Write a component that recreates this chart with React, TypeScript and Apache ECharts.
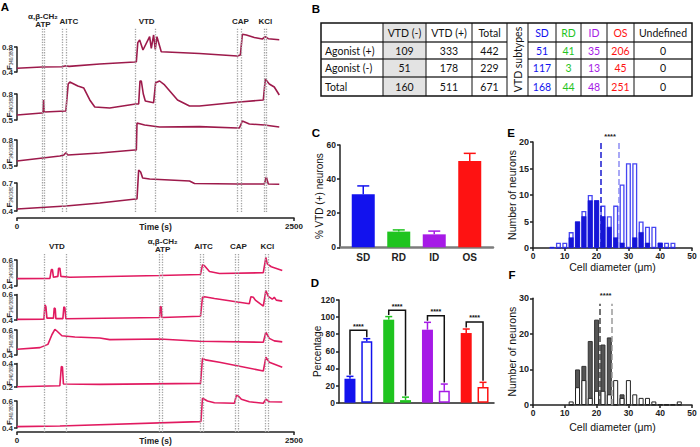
import React, { useEffect, useRef } from 'react';
import * as echarts from 'echarts';

// ---------------- Panel A data ----------------
const timeTicks = [0, 2500];

// top experiment: [time (s), F340/380]
const topTrace1: number[][] = [[0,0.459],[225,0.48],[405,0.485],[441,0.5],[470,0.49],[747,0.528],[1062,0.56],[1077,0.565],[1090,0.87],[1107,0.912],[1137,0.752],[1197,0.965],[1212,0.779],[1233,0.992],[1248,0.763],[1263,0.965],[1302,0.725],[1647,0.696],[1989,0.656],[2016,0.672],[2034,1.003],[2070,0.992],[2142,0.952],[2214,0.928],[2241,0.965],[2268,0.933],[2367,0.917]];
const topTrace2: number[][] = [[0,0.558],[225,0.581],[234,0.581],[240,0.731],[246,0.592],[441,0.604],[462,0.915],[477,0.938],[549,0.892],[603,0.869],[657,0.731],[702,0.65],[837,0.638],[1071,0.685],[1098,0.685],[1110,0.95],[1122,0.95],[1140,0.8],[1158,0.72],[1233,0.7],[1251,0.93],[1287,0.95],[1332,0.904],[1449,0.731],[1557,0.662],[1647,0.662],[2007,0.708],[2223,0.731],[2241,0.973],[2277,0.915],[2322,0.881],[2367,0.788]];
const topTrace3: number[][] = [[0,0.558],[387,0.615],[423,0.627],[441,0.653],[459,0.627],[747,0.65],[1062,0.685],[1077,0.685],[1083,0.996],[1152,0.973],[1287,0.95],[1647,0.954],[1989,0.938],[2007,0.938],[2034,1.019],[2097,0.985],[2232,0.973],[2367,0.95]];
const topTrace4: number[][] = [[0,0.421],[441,0.454],[747,0.486],[1071,0.529],[1083,0.529],[1098,0.839],[1116,0.818],[1134,0.754],[1197,0.743],[1377,0.732],[1557,0.721],[1602,0.695],[1989,0.689],[2232,0.689],[2250,0.764],[2268,0.689],[2367,0.686]];
const topYMin = [0.4, 0.5, 0.5, 0.4];
const topYMax = [0.8, 0.8, 0.8, 0.7];

const topStimNames = ['α,β-CH₂\nATP', 'AITC', 'VTD', 'CAP', 'KCl'];
const topStimOn = [228, 408, 1071, 1992, 2232];
const topStimOff = [246, 447, 1248, 2028, 2253];
const topStimLabelT = [234, 468, 1170, 2016, 2241];

// bottom experiment
const botTrace1: number[][] = [[0,0.457],[297,0.459],[310,0.526],[320,0.526],[329,0.467],[369,0.474],[375,0.537],[387,0.537],[396,0.474],[477,0.467],[1287,0.481],[1656,0.489],[1674,0.563],[1692,0.556],[1737,0.511],[1827,0.496],[2223,0.502],[2246,0.62],[2259,0.57],[2295,0.548],[2394,0.519]];
const botTrace2: number[][] = [[0,0.405],[243,0.407],[252,0.519],[261,0.504],[270,0.415],[329,0.415],[336,0.494],[345,0.489],[351,0.411],[414,0.411],[423,0.504],[432,0.496],[441,0.41],[1287,0.42],[1293,0.506],[1301,0.504],[1308,0.42],[1656,0.43],[1674,0.578],[1692,0.583],[1782,0.568],[2097,0.528],[2111,0.583],[2133,0.578],[2151,0.556],[2223,0.509],[2246,0.63],[2268,0.585],[2304,0.563],[2322,0.578],[2340,0.556],[2394,0.548]];
const botTrace3: number[][] = [[0,0.446],[207,0.459],[279,0.485],[315,0.562],[342,0.605],[360,0.592],[405,0.554],[522,0.544],[747,0.536],[837,0.523],[1287,0.528],[1647,0.51],[2223,0.502],[2246,0.582],[2277,0.533],[2322,0.513],[2394,0.505]];
const botTrace4: number[][] = [[0,0.2025],[387,0.211],[400,0.375],[410,0.371],[419,0.225],[747,0.2225],[1656,0.231],[1674,0.444],[1701,0.431],[1827,0.411],[2223,0.336],[2246,0.4525],[2277,0.411],[2394,0.369]];
const botTrace5: number[][] = [[0,0.41],[387,0.415],[1647,0.447],[1660,0.448],[1674,0.62],[1719,0.6],[1782,0.587],[1962,0.583],[1980,0.642],[1998,0.637],[2025,0.613],[2097,0.595],[2223,0.583],[2246,0.613],[2277,0.595],[2394,0.593]];
const botYMin = [0.4, 0.4, 0.4, 0.2, 0.4];
const botYMax = [0.6, 0.6, 0.6, 0.4, 0.6];

const botStimNames = ['VTD', 'α,β-CH₂\nATP', 'AITC', 'CAP', 'KCl'];
const botStimOn = [243, 1287, 1656, 1971, 2241];
const botStimOff = [441, 1314, 1683, 1998, 2268];
const botStimLabelT = [360, 1314, 1683, 1998, 2259];

// ---------------- Panel B data ----------------
const tableHeader = ['', 'VTD (-)', 'VTD (+)', 'Total', 'VTD subtypes', 'SD', 'RD', 'ID', 'OS', 'Undefined'];
const tableRowLabels = ['Agonist (+)', 'Agonist (-)', 'Total'];
const colVtdNeg = [109, 51, 160];
const colVtdPos = [333, 178, 511];
const colTotal = [442, 229, 671];
const colSD = [51, 117, 168];
const colRD = [41, 3, 44];
const colID = [35, 13, 48];
const colOS = [206, 45, 251];
const colUndefined = [0, 0, 0];

// ---------------- Panel C / D data ----------------
const subtypes = ['SD', 'RD', 'ID', 'OS'];
const cMeans = [31.1, 9.2, 7.6, 50.6];
const cSem = [4.9, 1.0, 1.9, 4.5];
const dAgonistPos = [28, 97, 85.3, 81.4];
const dAgonistPosSem = [2.8, 3.6, 8.6, 4.7];
const dAgonistNeg = [71.7, 3, 14, 18.3];
const dAgonistNegSem = [3.1, 3.5, 7.8, 5.5];
const dBracketLevel = [84.6, 108, 101.7, 94.3];

// ---------------- Panel E / F data ----------------
const eBins = [6, 8, 10, 12, 14, 16, 18, 20, 22, 24, 26, 28, 30, 32, 34, 36, 38, 40, 42, 44];
const eOpen = [0, 1, 1, 3, 5, 7, 10, 9, 8, 6, 8, 12, 16, 16, 5, 4, 4, 1, 1, 1];
const eFilled = [0.2, 0, 0, 2, 5, 6, 9, 9, 6, 4, 2, 1, 0, 2, 3, 1, 0, 1, 0, 0];
const eMeanFilled = 21.4;
const eMeanOpen = 27.1;

const fBins = [12, 14, 16, 18, 20, 22, 24, 26, 28, 30, 32, 34, 36, 38, 40, 42, 44, 46];
const fDark = [0, 10, 11, 18, 24, 17, 19, 0, 3, 0, 0, 0, 0, 0, 0, 0, 0, 0];
const fWhite = [1, 5, 7, 2, 4, 4, 3, 7, 2, 7, 3, 2, 2, 1, 0.2, 0.2, 0.2, 1];
const fMeanDark = 20.9;
const fMeanWhite = 24.8;

// ---------------- styling ----------------
const FONT = 'Liberation Sans, Arial, sans-serif';
const TOP_COLOR = '#9d1a4b';
const BOT_COLOR = '#e11a60';
const SUB_COLORS = ['#1212ee', '#1fc41f', '#a61ae6', '#fe1212'];
const A_LEFT = 17;
const A_W = 277;

function buildOption(): any {
  const grid: any[] = [];
  const xAxis: any[] = [];
  const yAxis: any[] = [];
  const series: any[] = [];
  const addGrid = (g: any, xa: any, ya: any) => {
    const i = grid.length;
    grid.push({ ...g, containLabel: false, outerBoundsMode: 'none' });
    xAxis.push({ nameMoveOverlap: false, ...xa, gridIndex: i });
    yAxis.push({ nameMoveOverlap: false, ...ya, gridIndex: i });
    return i;
  };

  const hiddenTime = { type: 'value', min: 0, max: 2500, show: false };
  const timeAxis = (offset: number) => ({
    type: 'value', min: 0, max: 2500, interval: 2500, offset,
    axisLine: { show: true, onZero: false, lineStyle: { color: '#222', width: 1.5 } },
    axisTick: { show: true, length: 3, customValues: timeTicks, lineStyle: { color: '#222', width: 1.5 } },
    axisLabel: { show: true, customValues: timeTicks, formatter: (v: number) => String(v), fontSize: 8, fontWeight: 'bold', color: '#222', margin: 4, fontFamily: FONT },
    splitLine: { show: false },
    name: 'Time (s)', nameLocation: 'middle', nameGap: 4,
    nameTextStyle: { fontSize: 8.5, fontWeight: 'bold', color: '#222', fontFamily: FONT },
  });

  const addMarkers = (top: number, height: number, on: number[], off: number[], names: string[], labelT: number[]) => {
    const i = addGrid({ left: A_LEFT, top, width: A_W, height }, hiddenTime, { type: 'value', min: 0, max: 1, show: false });
    series.push({
      type: 'line', xAxisIndex: i, yAxisIndex: i, data: [[0, 0]], symbol: 'none', lineStyle: { opacity: 0 }, silent: true,
      markLine: {
        silent: true, symbol: ['none', 'none'], label: { show: false },
        lineStyle: { type: 'dotted', color: '#a3a3a3', width: 1.3 },
        data: on.concat(off).map((t) => ({ xAxis: t })),
      },
      markPoint: {
        silent: true, symbol: 'rect', symbolSize: 0,
        data: names.map((n, k) => ({
          coord: [labelT[k], 1], name: n,
          label: {
            show: true, position: 'top', distance: 2, offset: [0, n.indexOf('\n') >= 0 ? 3 : 0], formatter: n,
            fontSize: 8, fontWeight: 'bold', color: '#222', lineHeight: 8.5, fontFamily: FONT,
          },
        })),
      },
    });
  };

  const addTrace = (data: number[][], top: number, height: number, ymin: number, ymax: number, color: string, timeOffset: number | null) => {
    const i = addGrid(
      { left: A_LEFT, top, width: A_W, height },
      timeOffset === null ? hiddenTime : timeAxis(timeOffset),
      {
        type: 'value', min: ymin, max: ymax, interval: +(ymax - ymin).toFixed(2),
        axisLine: { show: true, onZero: false, lineStyle: { color: '#222', width: 1.5 } },
        axisTick: { show: true, length: 3, customValues: [ymin, ymax], lineStyle: { color: '#222', width: 1.5 } },
        axisLabel: { show: true, customValues: [ymin, ymax], formatter: (v: number) => v.toFixed(1), fontSize: 8, fontWeight: 'bold', color: '#333', margin: 4, fontFamily: FONT },
        splitLine: { show: false },
        name: '{a|F}{b|340/380}', nameLocation: 'middle', nameGap: 3, nameRotate: 90,
        nameTextStyle: {
          rich: {
            a: { fontSize: 8, fontWeight: 'bold', color: '#222', fontFamily: FONT, lineHeight: 10 },
            b: { fontSize: 4.5, color: '#222', fontFamily: FONT, verticalAlign: 'bottom', lineHeight: 6 },
          },
        },
      }
    );
    series.push({
      type: 'line', xAxisIndex: i, yAxisIndex: i, data, symbol: 'none', showSymbol: false, clip: false, silent: true,
      lineStyle: { color, width: 1.6 },
    });
  };

  // ---- Panel A ----
  addMarkers(28, 184, topStimOn, topStimOff, topStimNames, topStimLabelT);
  addMarkers(253, 179, botStimOn, botStimOff, botStimNames, botStimLabelT);
  const topTraces = [topTrace1, topTrace2, topTrace3, topTrace4];
  const topTops = [47, 94, 140, 183];
  const topHeights = [25, 26, 26, 28];
  topTraces.forEach((d, k) => addTrace(d, topTops[k], topHeights[k], topYMin[k], topYMax[k], TOP_COLOR, k === 3 ? 7 : null));
  const botTraces = [botTrace1, botTrace2, botTrace3, botTrace4, botTrace5];
  const botTops = [260, 294.5, 330, 363.5, 401];
  const botHeights = [26, 25.5, 25, 23.5, 27];
  botTraces.forEach((d, k) => addTrace(d, botTops[k], botHeights[k], botYMin[k], botYMax[k], BOT_COLOR, k === 4 ? 4 : null));

  const valAxis = (min: number, max: number, interval: number, name: string, nameGap: number) => ({
    type: 'value', min, max, interval,
    axisLine: { show: true, onZero: false, lineStyle: { color: '#222', width: 1.5 } },
    axisTick: { show: true, length: 3, lineStyle: { color: '#222', width: 1.5 } },
    axisLabel: { fontSize: 8.5, fontWeight: 'bold', color: '#222', margin: 4, fontFamily: FONT },
    splitLine: { show: false },
    name, nameLocation: 'middle', nameGap,
    nameTextStyle: { fontSize: 10, color: '#111', fontFamily: FONT },
  });

  // ---- Panel C ----
  const ci = addGrid(
    { left: 340, top: 145, width: 153, height: 102.3 },
    {
      type: 'value', min: -0.655, max: 3.655,
      axisLine: { show: true, onZero: false, lineStyle: { color: '#7c7c7c', width: 2.5 } },
      axisTick: { show: false },
      axisLabel: { customValues: [0, 1, 2, 3], formatter: (v: number) => subtypes[Math.round(v)] ?? '', fontSize: 10, fontWeight: 'bold', color: '#222', margin: 5, fontFamily: FONT },
      splitLine: { show: false },
    },
    valAxis(0, 60, 20, '% VTD (+) neurons', 16)
  );
  series.push({
    type: 'bar', xAxisIndex: ci, yAxisIndex: ci, barWidth: 23, silent: true,
    data: cMeans.map((m, i) => ({ value: [i, m], itemStyle: { color: SUB_COLORS[i] } })),
  });
  series.push({
    type: 'custom', xAxisIndex: ci, yAxisIndex: ci, silent: true, z: 3,
    data: cMeans.map((m, i) => [i, m, m + cSem[i]]),
    renderItem: (params: any, api: any) => {
      const p0 = api.coord([api.value(0), api.value(1)]);
      const p1 = api.coord([api.value(0), api.value(2)]);
      const c = SUB_COLORS[params.dataIndex];
      return {
        type: 'group', children: [
          { type: 'line', shape: { x1: p0[0], y1: p0[1], x2: p1[0], y2: p1[1] }, style: { stroke: c, lineWidth: 1.5 } },
          { type: 'line', shape: { x1: p1[0] - 6, y1: p1[1], x2: p1[0] + 6, y2: p1[1] }, style: { stroke: c, lineWidth: 1.5 } },
        ],
      };
    },
  });

  // ---- Panel D ----
  const di = addGrid(
    { left: 339, top: 300, width: 155, height: 102.7 },
    {
      type: 'category', data: subtypes,
      axisLine: { show: true, onZero: false, lineStyle: { color: '#222', width: 1.5 } },
      axisTick: { show: false }, axisLabel: { show: false }, splitLine: { show: false },
    },
    valAxis(0, 120, 20, 'Percentage', 17)
  );
  series.push({
    type: 'bar', xAxisIndex: di, yAxisIndex: di, barWidth: 11, barGap: '53%', silent: true,
    data: dAgonistPos.map((v, i) => ({ value: v, itemStyle: { color: SUB_COLORS[i] } })),
  });
  series.push({
    type: 'bar', xAxisIndex: di, yAxisIndex: di, barWidth: 11, barGap: '53%', silent: true,
    data: dAgonistNeg.map((v, i) => ({ value: v, itemStyle: { color: '#ffffff', borderColor: SUB_COLORS[i], borderWidth: 1.5 } })),
  });
  const D_OFF = 8.4;
  const dErr = (means: number[], sems: number[], dir: number) => ({
    type: 'custom', xAxisIndex: di, yAxisIndex: di, silent: true, z: 3,
    data: means.map((m, i) => [i, m, m + sems[i]]),
    renderItem: (params: any, api: any) => {
      const p0 = api.coord([api.value(0), api.value(1)]);
      const p1 = api.coord([api.value(0), api.value(2)]);
      const x = p0[0] + dir * D_OFF;
      const c = SUB_COLORS[params.dataIndex];
      return {
        type: 'group', children: [
          { type: 'line', shape: { x1: x, y1: p0[1], x2: x, y2: p1[1] }, style: { stroke: c, lineWidth: 1.5 } },
          { type: 'line', shape: { x1: x - 3.5, y1: p1[1], x2: x + 3.5, y2: p1[1] }, style: { stroke: c, lineWidth: 1.5 } },
        ],
      };
    },
  });
  series.push(dErr(dAgonistPos, dAgonistPosSem, -1));
  series.push(dErr(dAgonistNeg, dAgonistNegSem, 1));
  series.push({
    type: 'custom', xAxisIndex: di, yAxisIndex: di, silent: true, z: 4,
    data: dAgonistPos.map((v, i) => [i, v + dAgonistPosSem[i], dAgonistNeg[i] + dAgonistNegSem[i], dBracketLevel[i]]),
    renderItem: (params: any, api: any) => {
      const c = api.coord([api.value(0), api.value(3)]);
      const yL = api.coord([api.value(0), api.value(1)])[1] - 1.5;
      const yR = api.coord([api.value(0), api.value(2)])[1] - 1.5;
      const xL = c[0] - D_OFF;
      const xR = c[0] + D_OFF;
      return {
        type: 'group', children: [
          { type: 'polyline', shape: { points: [[xL, yL], [xL, c[1]], [xR, c[1]], [xR, yR]] }, style: { stroke: '#111', lineWidth: 1.5, fill: 'none' } },
          { type: 'text', style: { text: '****', x: c[0], y: c[1] - 0.5, align: 'center', textAlign: 'center', verticalAlign: 'bottom', textVerticalAlign: 'bottom', fontSize: 7, fontWeight: 'bold', fill: '#111', fontFamily: FONT } },
        ],
      };
    },
  });

  // ---- Panel E / F ----
  const histX = (name: string, nameGap: number, margin: number) => ({
    type: 'value', min: 0, max: 50, interval: 10,
    axisLine: { show: true, onZero: false, lineStyle: { color: '#222', width: 1.5 } },
    axisTick: { show: true, length: 3, lineStyle: { color: '#222', width: 1.5 } },
    axisLabel: { fontSize: 8.5, fontWeight: 'bold', color: '#222', margin, fontFamily: FONT },
    splitLine: { show: false },
    name, nameLocation: 'middle', nameGap,
    nameTextStyle: { fontSize: 10.5, color: '#111', fontFamily: FONT },
  });
  const histY = (max: number, interval: number) => ({
    ...valAxis(0, max, interval, 'Number of neurons', 16),
    axisLabel: { fontSize: 9, fontWeight: 'bold', color: '#222', margin: 4, fontFamily: FONT },
    nameTextStyle: { fontSize: 10.5, color: '#111', fontFamily: FONT },
  });
  const meanLines = (lines: { x: number; top: number; color: string }[], starX: number, starY: number) => ({
    markLine: {
      silent: true, symbol: ['none', 'none'], label: { show: false },
      data: lines.map((l) => [
        { coord: [l.x, 0], lineStyle: { type: 'dashed', color: l.color, width: 1.5 } },
        { coord: [l.x, l.top] },
      ]),
    },
    markPoint: {
      silent: true, symbol: 'rect', symbolSize: 0,
      data: [{ coord: [starX, starY], label: { show: true, position: 'top', distance: 2, formatter: '****', fontSize: 7.5, fontWeight: 'bold', color: '#222', fontFamily: FONT } }],
    },
  });

  const ei = addGrid({ left: 533, top: 142, width: 159, height: 106 }, histX('Cell diameter (μm)', 13, 3), histY(20, 5));
  series.push({
    type: 'bar', xAxisIndex: ei, yAxisIndex: ei, barWidth: 5, barGap: '-100%', silent: true,
    itemStyle: { color: '#ffffff', borderColor: '#4646f2', borderWidth: 1.3 },
    data: eBins.map((b, i) => [b, eOpen[i]]),
  });
  series.push({
    type: 'bar', xAxisIndex: ei, yAxisIndex: ei, barWidth: 5, barGap: '-100%', silent: true,
    itemStyle: { color: '#1515d6', borderColor: '#1515d6', borderWidth: 0.6 },
    data: eBins.map((b, i) => [b, eFilled[i]]),
    ...meanLines([{ x: eMeanFilled, top: 20, color: '#1a1ad0' }, { x: eMeanOpen, top: 20, color: '#8c8cf4' }], (eMeanFilled + eMeanOpen) / 2, 20),
  });

  const fi = addGrid({ left: 533, top: 298.3, width: 159, height: 106.7 }, histX('Cell diameter (μm)', 16, 3.5), histY(30, 10));
  series.push({
    type: 'bar', xAxisIndex: fi, yAxisIndex: fi, barWidth: 5, barGap: '-100%', silent: true,
    itemStyle: { color: '#555555', borderColor: '#333333', borderWidth: 1 },
    data: fBins.map((b, i) => [b, fDark[i]]),
  });
  series.push({
    type: 'bar', xAxisIndex: fi, yAxisIndex: fi, barWidth: 5, barGap: '-100%', silent: true,
    itemStyle: { color: '#ffffff', borderColor: '#222222', borderWidth: 1 },
    data: fBins.map((b, i) => [b, fWhite[i]]),
    ...meanLines([{ x: fMeanDark, top: 28.5, color: '#444444' }, { x: fMeanWhite, top: 28.5, color: '#9a9a9a' }], (fMeanDark + fMeanWhite) / 2, 29),
  });

  // ---- graphic: panel letters + table B ----
  const graphic: any[] = [];
  const txt = (x: number, y: number, text: string, o: any = {}) => ({
    type: 'text', x, y, silent: true, rotation: o.rotation || 0,
    style: {
      text, fill: o.fill || '#111', fontSize: o.fontSize || 10.5, fontWeight: o.fontWeight || 'normal', fontFamily: o.fontFamily || FONT,
      align: o.align || 'center', textAlign: o.align || 'center', verticalAlign: 'middle', textVerticalAlign: 'middle',
    },
  });
  const letters = ['A', 'B', 'C', 'D', 'E', 'F'];
  const letterPos = [[5, 7], [316, 9], [316, 133], [315, 283], [511, 133], [512, 275]];
  letters.forEach((l, i) => graphic.push(txt(letterPos[i][0], letterPos[i][1], l, { fontWeight: 'bold', fontSize: 11.5, fill: '#000' })));

  const colX = [321, 383, 426, 472, 507, 528, 556, 581, 607, 634, 692];
  const rowY = [23, 42, 59, 77, 96];
  const TFONT = 'Lato, Liberation Sans, sans-serif';
  graphic.push({ type: 'rect', silent: true, shape: { x: colX[1], y: rowY[0], width: colX[2] - colX[1], height: rowY[4] - rowY[0] }, style: { fill: '#e3e3e3' } });
  for (let r = 1; r < 4; r++) {
    graphic.push({ type: 'line', silent: true, shape: { x1: colX[0], y1: rowY[r], x2: colX[4], y2: rowY[r] }, style: { stroke: '#6a6a6a', lineWidth: 2 } });
    graphic.push({ type: 'line', silent: true, shape: { x1: colX[5], y1: rowY[r], x2: colX[10], y2: rowY[r] }, style: { stroke: '#6a6a6a', lineWidth: 2 } });
  }
  for (let c = 1; c < 10; c++) {
    graphic.push({ type: 'line', silent: true, shape: { x1: colX[c], y1: rowY[0], x2: colX[c], y2: rowY[4] }, style: { stroke: '#111', lineWidth: 1 } });
  }
  graphic.push({ type: 'rect', silent: true, shape: { x: colX[0], y: rowY[0], width: colX[10] - colX[0], height: rowY[4] - rowY[0] }, style: { fill: 'none', stroke: '#111', lineWidth: 1.5 } });

  const headerColors = ['#111', '#111', '#111', '#111', '#111', SUB_COLORS[0], SUB_COLORS[1], SUB_COLORS[2], SUB_COLORS[3], '#111'];
  const colCenter = (c: number) => (colX[c] + colX[c + 1]) / 2;
  const rowCenter = (r: number) => (rowY[r] + rowY[r + 1]) / 2;
  tableHeader.forEach((h, c) => {
    if (!h) return;
    if (c === 4) {
      graphic.push(txt(colCenter(4), (rowY[0] + rowY[4]) / 2, h, { rotation: Math.PI / 2, fontFamily: TFONT, fontSize: 10.5 }));
    } else {
      graphic.push(txt(colCenter(c), rowCenter(0), h, { fill: headerColors[c], fontFamily: TFONT, fontSize: 10.5 }));
    }
  });
  const cols = [colVtdNeg, colVtdPos, colTotal, null, colSD, colRD, colID, colOS, colUndefined];
  tableRowLabels.forEach((lab, r) => {
    graphic.push(txt(colX[0] + 4, rowCenter(r + 1), lab, { align: 'left', fontFamily: TFONT, fontSize: 10.5 }));
    cols.forEach((col, k) => {
      if (!col) return;
      const c = k + 1;
      graphic.push(txt(colCenter(c), rowCenter(r + 1), String(col[r]), { fill: headerColors[c], fontFamily: TFONT, fontSize: 10.5 }));
    });
  });

  return {
    animation: false,
    backgroundColor: '#ffffff',
    textStyle: { fontFamily: FONT },
    grid, xAxis, yAxis, series, graphic,
  };
}

export default function App() {
  const ref = useRef<HTMLDivElement>(null);
  useEffect(() => {
    const el = ref.current;
    if (!el) return;
    const chart = echarts.init(el, undefined, { renderer: 'svg' });
    chart.setOption(buildOption());
    return () => chart.dispose();
  }, []);
  return <div ref={ref} style={{ position: 'absolute', left: 0, top: 0, width: 700, height: 447, background: '#fff' }} />;
}
